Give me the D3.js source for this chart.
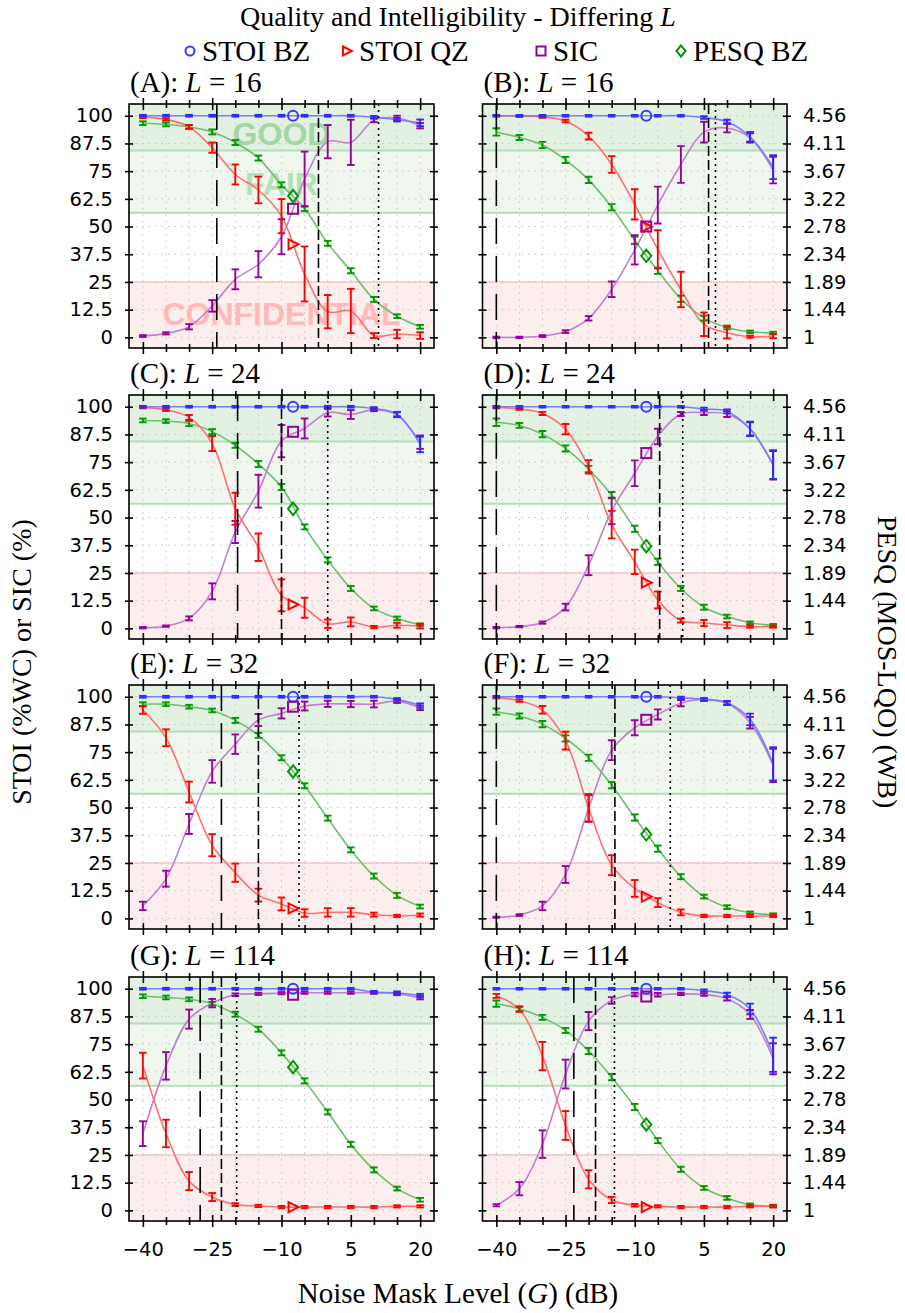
<!DOCTYPE html>
<html><head><meta charset="utf-8">
<script src="https://cdn.jsdelivr.net/npm/d3@7"></script>
<style>body{margin:0;background:#fff}</style>
</head><body><svg id="c" width="905" height="1313" xmlns="http://www.w3.org/2000/svg"></svg>
<script>
// ---------------- DATA ----------------
const gains = [-40,-35,-30,-25,-20,-15,-10,-5,0,5,10,15,20];
const panelNames = ["A","B","C","D","E","F","G","H"];
const panelL = [16,16,24,24,32,32,114,114];
const yTicks = [0,12.5,25,37.5,50,62.5,75,87.5,100];
const yTickLabels = ["0","12.5","25","37.5","50","62.5","75","87.5","100"];
const pesqTickLabels = ["1","1.44","1.89","2.34","2.78","3.22","3.67","4.11","4.56"];
const xTickLabels = [-40,-25,-10,5,20];
const seriesNames = ["STOI BZ","STOI QZ","SIC","PESQ BZ"];

// STOI BZ (%WC)
const stoiBzMean = [
 [100,100,100,100,100,100,100,100,100,100,99.3,98.2,96.8],
 [100,100,100,100,100,100,100,100,100,99.2,97.3,90.5,76.8],
 [100,100,100,100,100,100,100,100,100,100,99.2,96.7,83],
 [100,100,100,100,100,100,100,100,100,99,97.9,90,73.9],
 [100,100,100,100,100,100,100,100,100,100,100,98.8,96],
 [100,100,100,100,100,100,100,100,99.5,98.8,97.3,89.8,69.7],
 [100,100,100,100,100,100,100,100,100,100,98.5,98.2,96.9],
 [100,100,100,100,100,100,100,100,100,99.2,97.4,90.9,70.2]];
const stoiBzErr = [
 [0.4,0.4,0.4,0.4,0.4,0.4,0.4,0.4,0.4,0.4,0.6,0.8,1.5],
 [0.4,0.4,0.4,0.4,0.4,0.4,0.4,0.4,0.4,0.6,0.9,2.2,5.4],
 [0.4,0.4,0.4,0.4,0.4,0.4,0.4,0.4,0.4,0.4,0.6,1,3.5],
 [0.4,0.4,0.4,0.4,0.4,0.4,0.4,0.4,0.4,0.6,0.9,3.2,6.5],
 [0.4,0.4,0.4,0.4,0.4,0.4,0.4,0.4,0.4,0.4,0.4,0.6,1],
 [0.4,0.4,0.4,0.4,0.4,0.4,0.4,0.4,0.5,0.6,0.8,2.6,7.5],
 [0.4,0.4,0.4,0.4,0.4,0.4,0.4,0.4,0.4,0.4,0.5,0.6,0.8],
 [0.4,0.4,0.4,0.4,0.4,0.4,0.4,0.4,0.4,0.5,0.8,2.4,7.7]];
// STOI QZ (%WC)
const stoiQzMean = [
 [99.5,98.3,95,85.6,73.5,66.5,54.7,28.6,11.6,11.9,0.8,1.5,0.8],
 [100,99.8,99.5,97.6,90.8,78,60,39.7,21.6,5.9,2.1,0.3,0.6],
 [99.7,98.6,95.2,83.4,54,36.6,14.9,9.3,2.1,2.9,0.6,1.4,1],
 [99.7,99,97,89.9,72.9,46.8,30,12.8,3.5,2.4,1.5,0.8,0.8],
 [94,81.5,57,33,20.6,10.5,6.5,2.4,2.7,2.7,1.7,1.1,1.5],
 [99.7,98.2,94.1,80.2,49.9,24,13.5,7.1,2.7,1.1,1.1,1.1,1.1],
 [65.3,34.7,13.2,6,2.6,2,1.5,1.5,1.5,1.5,1.5,1.8,1.8],
 [96.8,90.7,69.6,38.3,14,4.7,2.3,1.8,1.5,1.5,1.5,1.8,1.8]];
const stoiQzErr = [
 [0.6,0.5,0.8,2.3,4.5,6,7.7,12.4,7.5,10,1.1,1.9,1.5],
 [0.3,0.3,0.4,0.6,1.5,3.8,6.8,8.6,8,5.3,2.6,0.5,1],
 [0.4,0.5,1.1,3.4,7.2,6.2,7.2,4.5,1.9,2,0.5,1.1,1],
 [0.4,0.4,0.7,2.3,3,6.2,5.5,3.8,0.9,1.4,1.3,0.5,0.5],
 [1.7,3.8,4.7,5,4.1,2.9,2.9,1.7,1.9,1.9,0.9,0.5,0.7],
 [0.4,0.5,1.7,4,6.2,4.5,3.8,2,1.3,0.5,0.5,0.5,0.5],
 [5.8,6.2,4.1,1.8,0.6,0.5,0.5,0.5,0.5,0.5,0.5,0.5,0.5],
 [0.9,1.1,6.4,6.5,4.1,1.4,0.6,0.5,0.5,0.5,0.5,0.5,0.5]];
// SIC (%)
const sicMean = [
 [0.6,1.8,4.8,14.2,26.2,33,45.4,71.4,88.3,88,98,99,95.5],
 [0,0,0.6,2.6,8.6,21.7,39.5,59.7,78,92.6,94.5,90,75.5],
 [0.3,1,4.5,16.7,43.5,61.9,84.5,90.2,97.3,96.5,98.6,96.4,84],
 [0.3,0.8,2.6,9.6,28.5,53,70,86.6,96.7,97.3,96.7,90,73.6],
 [5.6,17.9,42.6,66.3,78.6,89.5,92.5,95.8,96.8,96.7,96.7,98,95],
 [0.5,1.5,5.6,19.8,49.6,75.9,86,92,97.1,98.8,97,88.3,69],
 [34.6,65.2,86.3,93.5,97.3,97.7,98,98.2,98.2,98.2,98.2,97.7,96],
 [2.3,9.8,29.9,61.5,85.4,94.7,97.4,97.3,97.7,97.4,95.5,88.4,68.4]];
const sicErr = [
 [0.4,0.5,1.2,2.6,4.5,5.9,7.9,12.4,7.5,10.2,0.9,1,1.2],
 [0.3,0.3,0.4,0.6,1,3.5,6.6,8.3,8.3,4.7,2,2.1,6],
 [0.3,0.3,0.9,3.6,5,7.4,7.3,4.5,1.7,2,0.6,1.1,3],
 [0.3,0.3,0.5,1.5,4.5,6,5.8,3.5,0.9,1,1.3,3,6.4],
 [1.9,3.6,4.5,5.1,4.4,2.7,2.3,2,1.4,1.4,1.5,0.8,1],
 [0.3,0.4,1.9,3.8,6,4.5,3.4,2.3,1.4,0.6,0.8,2.6,7.5],
 [5.6,6.2,4.3,1.9,0.6,0.5,0.5,0.5,0.5,0.5,0.5,0.6,0.8],
 [0.5,3,6.2,6.5,4.1,1.5,0.8,0.8,0.5,0.6,0.8,2,7]];
// PESQ BZ (MOS-LQO, WB)
const pesqMean = [
 [4.44,4.42,4.38,4.30,4.13,3.88,3.45,3.07,2.51,2.07,1.61,1.34,1.17],
 [4.30,4.21,4.09,3.85,3.53,3.09,2.56,2.07,1.62,1.31,1.16,1.09,1.07],
 [4.34,4.33,4.29,4.16,3.94,3.64,3.27,2.63,2.10,1.64,1.32,1.16,1.06],
 [4.31,4.26,4.12,3.89,3.56,3.14,2.60,2.07,1.64,1.34,1.19,1.09,1.05],
 [4.44,4.44,4.40,4.34,4.18,3.94,3.58,3.13,2.61,2.10,1.68,1.37,1.19],
 [4.32,4.25,4.12,3.89,3.58,3.14,2.62,2.12,1.67,1.35,1.18,1.09,1.06],
 [4.44,4.42,4.39,4.32,4.15,3.91,3.53,3.08,2.58,2.06,1.65,1.35,1.17],
 [4.32,4.24,4.10,3.89,3.56,3.14,2.66,2.12,1.66,1.36,1.20,1.09,1.07]];
const pesqErr = [
 [0.03,0.03,0.03,0.04,0.04,0.04,0.04,0.04,0.04,0.04,0.04,0.03,0.03],
 [0.06,0.04,0.05,0.05,0.05,0.05,0.06,0.05,0.05,0.04,0.03,0.02,0.02],
 [0.03,0.03,0.04,0.04,0.04,0.05,0.05,0.04,0.04,0.04,0.03,0.03,0.02],
 [0.06,0.04,0.05,0.05,0.05,0.05,0.05,0.05,0.04,0.04,0.03,0.02,0.02],
 [0.03,0.03,0.03,0.03,0.04,0.04,0.04,0.04,0.04,0.04,0.04,0.04,0.03],
 [0.05,0.04,0.05,0.05,0.05,0.05,0.05,0.05,0.04,0.03,0.03,0.02,0.02],
 [0.03,0.03,0.03,0.03,0.04,0.04,0.04,0.04,0.04,0.04,0.04,0.03,0.03],
 [0.05,0.04,0.04,0.04,0.05,0.05,0.05,0.04,0.04,0.03,0.03,0.02,0.02]];

// single markers placed at G = -7.5 dB
const markerGain = -7.5;
const markerStoiBz = [100,100,100,100,100,100,100,100];
const markerStoiQz = [42,50,10.8,20.6,4.5,9.8,1.5,1.5];
const markerSic = [58,50,88.7,79.1,95.5,89.6,97.3,96.5];
const markerPesq = [3.27,2.31,2.92,2.32,3.36,2.35,3.30,2.38];

// vertical reference lines (dB)
const vDashed  = [-24,-40,-19.5,-40,-23,-40,-27.6,-23.2];
const vDashDot = [-2,6,-10,-4.6,-15,-14.3,-23,-18.5];
const vDotted  = [11,7.5,0,0.4,-6.2,-2.3,-19.7,-14.4];

// quality zones
const pesqGood = 4.0, pesqFair = 3.0, stoiConfidential = 25;

// ---------------- DRAW ----------------
const svg = d3.select("#c");
const serif = "'Liberation Serif', serif";
const sans = "'DejaVu Sans', sans-serif";
const colX = [[129,434],[482.5,787]];
const rowTop = [104,395,685,977];
const panelH = 244;
const xDomain = [-43,23], yDomain = [-4.8,105.3];

const col = {
  bz:  {err:"#2b2bff", line:"#7c7cff"},
  qz:  {err:"#ff0000", line:"#ff6f6f"},
  sic: {err:"#990099", line:"#c27fd0"},
  pesq:{err:"#009a00", line:"#6cbf6c"}
};

// title
svg.append("text").attr("x",458).attr("y",26).attr("text-anchor","middle")
  .attr("font-family",serif).attr("font-size",28)
  .call(t=>{t.append("tspan").text("Quality and Intelligibility - Differing ");
            t.append("tspan").attr("font-style","italic").text("L");});

// legend
const legItems = [
  {x:190, name:seriesNames[0], c:"#3a3aff", shape:"circle"},
  {x:347, name:seriesNames[1], c:"#ff0000", shape:"tri"},
  {x:541, name:seriesNames[2], c:"#990099", shape:"square"},
  {x:681, name:seriesNames[3], c:"#009a00", shape:"diamond"}];
function drawMarker(g, shape, cx, cy, c, s){
  if(shape==="circle") g.append("circle").attr("cx",cx).attr("cy",cy).attr("r",s*0.5)
      .attr("fill","none").attr("stroke",c).attr("stroke-width",2);
  else if(shape==="tri") g.append("path").attr("d",`M${cx-s*0.45},${cy-s*0.5}L${cx+s*0.55},${cy}L${cx-s*0.45},${cy+s*0.5}Z`)
      .attr("fill","none").attr("stroke",c).attr("stroke-width",2);
  else if(shape==="square") g.append("rect").attr("x",cx-s*0.5).attr("y",cy-s*0.5).attr("width",s).attr("height",s)
      .attr("fill","none").attr("stroke",c).attr("stroke-width",2);
  else g.append("path").attr("d",`M${cx},${cy-s*0.62}L${cx+s*0.5},${cy}L${cx},${cy+s*0.62}L${cx-s*0.5},${cy}Z`)
      .attr("fill","none").attr("stroke",c).attr("stroke-width",2);
}
legItems.forEach(it=>{
  drawMarker(svg, it.shape, it.x, 51, it.c, 9);
  svg.append("text").attr("x",it.x+12).attr("y",61).attr("font-family",serif).attr("font-size",29).text(it.name);
});

const line = d3.line().curve(d3.curveCatmullRom.alpha(0.5));

panelNames.forEach((nm,i)=>{
  const c = i%2, r = Math.floor(i/2);
  const top = rowTop[r], bot = top+panelH;
  const x = d3.scaleLinear().domain(xDomain).range(colX[c]);
  const y = d3.scaleLinear().domain(yDomain).range([bot, top]);
  const yp = d3.scaleLinear().domain([1,4.56]).range([y(0), y(100)]);
  const g = svg.append("g");
  const clipId = "clip"+nm;
  g.append("clipPath").attr("id",clipId).append("rect")
    .attr("x",colX[c][0]).attr("y",top).attr("width",colX[c][1]-colX[c][0]).attr("height",panelH);
  const L = colX[c][0], R = colX[c][1], W = R-L;

  // zones
  g.append("rect").attr("x",L).attr("y",y(stoiConfidential)).attr("width",W).attr("height",bot-y(stoiConfidential)).attr("fill","#fdeeee");
  g.append("rect").attr("x",L).attr("y",top).attr("width",W).attr("height",yp(pesqFair)-top).attr("fill","#eff7ef");
  g.append("rect").attr("x",L).attr("y",top).attr("width",W).attr("height",yp(pesqGood)-top).attr("fill","#e3f1e3");
  g.append("line").attr("x1",L).attr("x2",R).attr("y1",y(stoiConfidential)).attr("y2",y(stoiConfidential)).attr("stroke","#f7c4c4").attr("stroke-width",1.5);
  [pesqFair,pesqGood].forEach(v=>g.append("line").attr("x1",L).attr("x2",R).attr("y1",yp(v)).attr("y2",yp(v)).attr("stroke","#b4deb4").attr("stroke-width",2));

  // grid
  gains.forEach(gv=>g.append("line").attr("x1",x(gv)).attr("x2",x(gv)).attr("y1",top).attr("y2",bot)
     .attr("stroke","#c4c4c4").attr("stroke-width",1).attr("stroke-dasharray","1.5,5"));
  yTicks.forEach(v=>g.append("line").attr("x1",L).attr("x2",R).attr("y1",y(v)).attr("y2",y(v))
     .attr("stroke","#c4c4c4").attr("stroke-width",1).attr("stroke-dasharray","1.5,5"));

  // watermark labels (panel A only)
  if(i===0){
    const wm = [{t:"GOOD",v:92.2,f:"#a3d6a3"},{t:"FAIR",v:69.6,f:"#b5dfb5"},{t:"CONFIDENTIAL",v:11,f:"#ffb9b9"}];
    wm.forEach(w=>g.append("text").attr("x",x(-10)).attr("y",y(w.v)).attr("dy","0.36em").attr("text-anchor","middle")
      .attr("font-family","'Liberation Sans', sans-serif").attr("font-weight","bold").attr("font-size",32)
      .attr("fill",w.f).text(w.t));
  }

  const dg = g.append("g").attr("clip-path",`url(#${clipId})`);
  const series = [
    {m:pesqMean[i], e:pesqErr[i], s:yp, c:col.pesq},
    {m:sicMean[i], e:sicErr[i], s:y, c:col.sic},
    {m:stoiQzMean[i], e:stoiQzErr[i], s:y, c:col.qz},
    {m:stoiBzMean[i], e:stoiBzErr[i], s:y, c:col.bz}];
  series.forEach(sr=>{
    dg.append("path").attr("d", line(gains.map((gv,k)=>[x(gv), sr.s(sr.m[k])])))
      .attr("fill","none").attr("stroke",sr.c.line).attr("stroke-width",1.6);
  });
  series.forEach(sr=>{
    gains.forEach((gv,k)=>{
      const xx = x(gv), y1 = sr.s(sr.m[k]-sr.e[k]), y2 = sr.s(sr.m[k]+sr.e[k]);
      const eg = dg.append("g").attr("stroke",sr.c.err).attr("stroke-width",1.9);
      eg.append("line").attr("x1",xx).attr("x2",xx).attr("y1",y1).attr("y2",y2);
      eg.append("line").attr("x1",xx-3.8).attr("x2",xx+3.8).attr("y1",y1).attr("y2",y1);
      eg.append("line").attr("x1",xx-3.8).attr("x2",xx+3.8).attr("y1",y2).attr("y2",y2);
    });
  });

  // vertical reference lines
  const vl = [{v:vDashed[i],d:"26,12"},{v:vDashDot[i],d:"10,4"},{v:vDotted[i],d:"2,4"}];
  vl.forEach(o=>dg.append("line").attr("x1",x(o.v)).attr("x2",x(o.v)).attr("y1",top).attr("y2",bot)
     .attr("stroke","#000").attr("stroke-width",1.6).attr("stroke-dasharray",o.d));

  // markers
  drawMarker(dg,"circle",x(markerGain),y(markerStoiBz[i]),"#3a3aff",10);
  drawMarker(dg,"tri",x(markerGain),y(markerStoiQz[i]),"#ff0000",10);
  drawMarker(dg,"square",x(markerGain),y(markerSic[i]),"#990099",10);
  drawMarker(dg,"diamond",x(markerGain),yp(markerPesq[i]),"#009a00",10);

  // frame
  g.append("rect").attr("x",L).attr("y",top).attr("width",W).attr("height",panelH)
    .attr("fill","none").attr("stroke","#000").attr("stroke-width",1.6);

  // axes (ticks crossing the frame)
  const major = new Set(xTickLabels);
  const mkX = (axisFn, yPos, size) => {
    const a = g.append("g").attr("transform",`translate(0,${yPos})`)
      .call(axisFn(x).tickValues(gains).tickSize(size).tickFormat(""));
    a.select(".domain").remove();
    a.selectAll(".tick line").attr("stroke","#000").attr("stroke-width",1.6)
      .attr("y2",function(d){ const v=+d3.select(this).attr("y2"); return major.has(d)?v*1.5:v; });
  };
  mkX(d3.axisBottom, top, 4); mkX(d3.axisTop, top, 4);
  mkX(d3.axisBottom, bot, 4); mkX(d3.axisTop, bot, 4);
  const mkY = (axisFn, xPos, labels) => {
    const a = g.append("g").attr("transform",`translate(${xPos},0)`)
      .call(axisFn(y).tickValues(yTicks).tickSize(4).tickPadding(12)
        .tickFormat(labels ? ((d,k)=>labels[k]) : ""));
    a.select(".domain").remove();
    a.selectAll(".tick line").attr("stroke","#000").attr("stroke-width",1.6);
    a.selectAll("text").attr("font-family",sans).attr("font-size",19.5).attr("fill","#000");
  };
  mkY(d3.axisLeft, L, c===0 ? yTickLabels : null);
  mkY(d3.axisRight, L, null);
  mkY(d3.axisLeft, R, null);
  mkY(d3.axisRight, R, c===1 ? pesqTickLabels : null);

  if(r===3){
    const a = g.append("g").attr("transform",`translate(0,${bot})`)
      .call(d3.axisBottom(x).tickValues(xTickLabels).tickSize(0).tickPadding(21)
        .tickFormat(d=>d<0?"\u2212"+Math.abs(d):String(d)));
    a.select(".domain").remove();
    a.selectAll("text").attr("font-family",sans).attr("font-size",19.5).attr("fill","#000");
  }

  // panel label
  svg.append("text").attr("x",L+1).attr("y",top-12).attr("font-family",serif).attr("font-size",29)
    .call(t=>{t.append("tspan").text(`(${nm}): `);
              t.append("tspan").attr("font-style","italic").text("L");
              t.append("tspan").text(` = ${panelL[i]}`);});
});

// axis titles
svg.append("text").attr("transform","translate(31,662) rotate(-90)").attr("text-anchor","middle")
  .attr("font-family",serif).attr("font-size",28).text("STOI (%WC) or SIC (%)");
svg.append("text").attr("transform","translate(878,662) rotate(90)").attr("text-anchor","middle")
  .attr("font-family",serif).attr("font-size",28).text("PESQ (MOS-LQO) (WB)");
svg.append("text").attr("x",458).attr("y",1303).attr("text-anchor","middle")
  .attr("font-family",serif).attr("font-size",29)
  .call(t=>{t.append("tspan").text("Noise Mask Level (");
            t.append("tspan").attr("font-style","italic").text("G");
            t.append("tspan").text(") (dB)");});
</script>
</body></html>
